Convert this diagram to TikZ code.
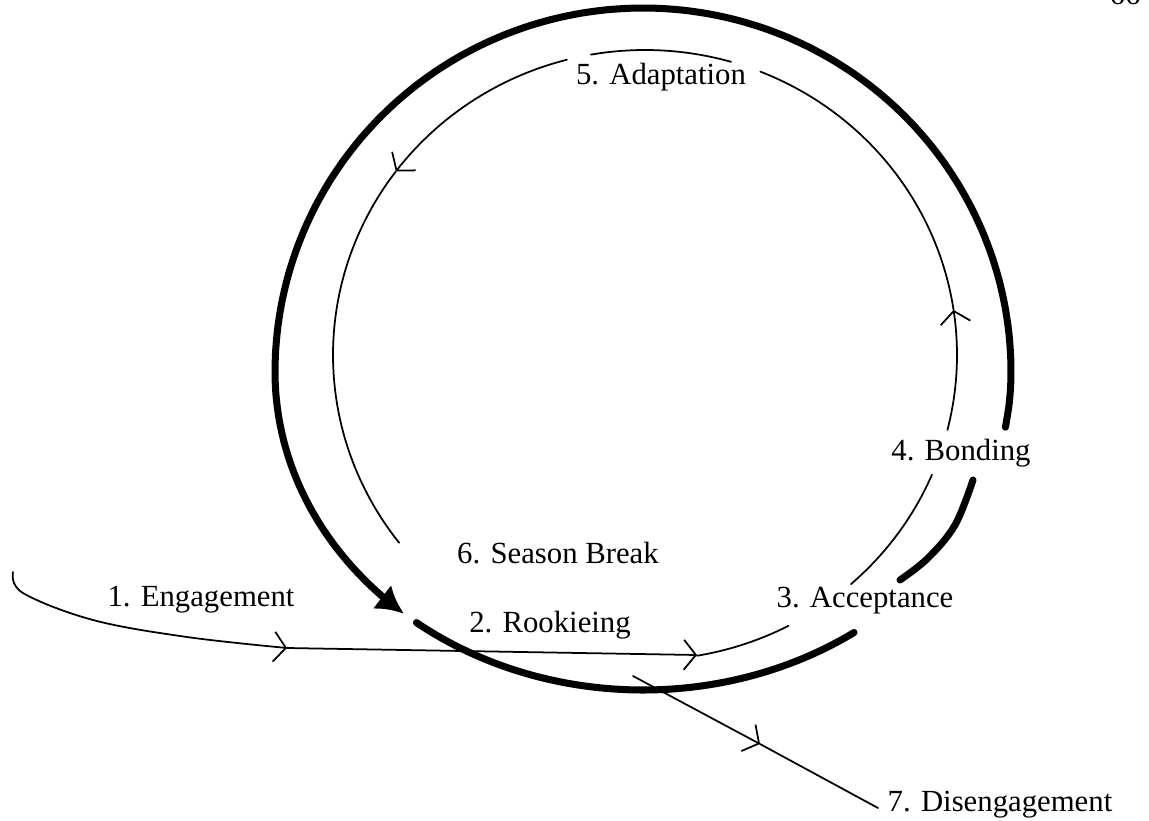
\documentclass[tikz,border=0pt]{standalone}
\usepackage{fontspec}
\setmainfont{Liberation Serif}
\usepackage{tikz}
\usetikzlibrary{arrows.meta}

\tikzset{
  ring/.style={line width=4pt, line cap=round, line join=round},
  track/.style={line width=1pt, line cap=round},
  flow/.style={-{Straight Barb[length=2.4mm,width=6mm,line width=1pt]}},
  stage/.style={font=\fontsize{17.5}{20}\selectfont, inner sep=1pt}
}

% outer ring: egg, flatter below; inner ring: ellipse
\newcommand{\outerring}[2]{plot[domain=#1:#2, samples=60, smooth]
  ({643+368*cos(\x)}, {372-(sin(\x)>0 ? 364 : 318)*sin(\x)})}
\newcommand{\innerring}[2]{plot[domain=#1:#2, samples=40, smooth]
  ({645+312*cos(\x)}, {355-305*sin(\x)})}

\begin{document}
\begin{tikzpicture}[x=0.02cm, y=-0.02cm]
  \useasboundingbox (0,0) rectangle (1149,821);
  % page number, cut off at the top
  \node[stage, anchor=base] (page) at (1125,5) {66};

  % outer thick ring
  \draw [ring, -{Latex[length=5.5mm,width=6mm]}] \outerring{-10}{229.5};
  \draw [ring] plot[smooth, tension=0.6] coordinates {
    (973,480) (955,525) (928,558) (900,580)};
  \draw [ring] \outerring{232}{305};

  % thin track, coming in from the left and round the ring
  \draw [track, flow] plot[smooth, tension=0.6] coordinates {
    (13,572) (23,593) (93,620) (187,637) (287,648)};
  \draw [track, flow] (287,648) -- (697,655);
  \draw [track] \innerring{-80.4}{-62.6};
  \draw [track] \innerring{-48.7}{-23.1};
  \draw [track, flow] \innerring{-14.2}{8.5};
  \draw [track] \innerring{8.5}{68.3};
  \draw [track] \innerring{74}{100};
  \draw [track, flow] \innerring{104.5}{143};
  \draw [track] \innerring{143}{218};

  % way out
  \coordinate (exit0) at (633,676);
  \coordinate (exit1) at (760,744);
  \coordinate (exit2) at (878,808);
  \draw [track, flow] (exit0) -- (exit1);
  \draw [track] (exit1) -- (exit2);

  \node[stage] (engage) at (201,600) {1. Engagement};
  \node[stage] (rookie) at (550,625) {2. Rookieing};
  \node[stage] (accept) at (865,601) {3. Acceptance};
  \node[stage] (bond) at (961,453) {4. Bonding};
  \node[stage] (adapt) at (661,77) {5. Adaptation};
  \node[stage] (brk) at (558,553) {6. Season Break};
  \node[stage] (disengage) at (1000,805) {7. Disengagement};
\end{tikzpicture}
\end{document}
